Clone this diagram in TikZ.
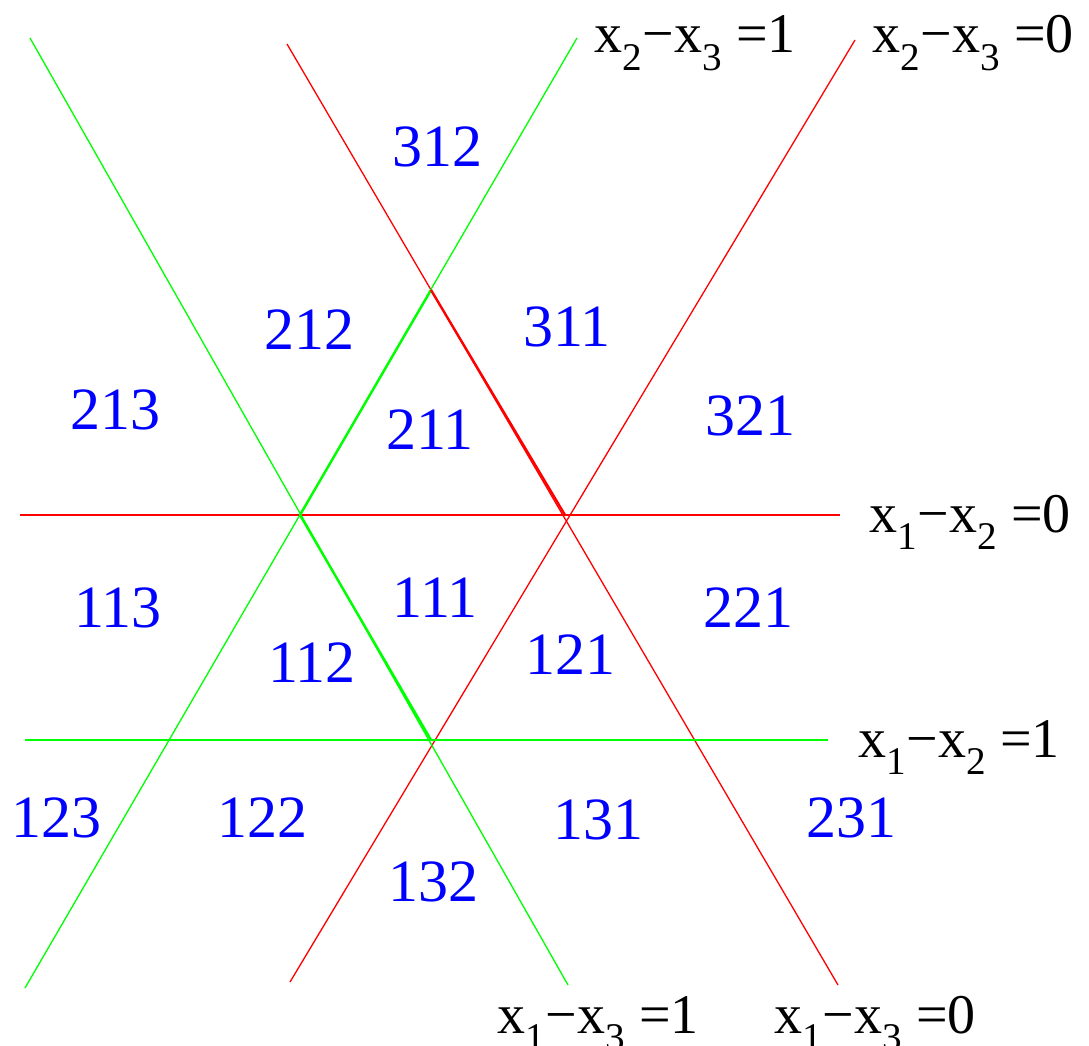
\documentclass[tikz,border=0pt]{standalone}
\usepackage{fontspec}
\setmainfont{Liberation Serif}
\usepackage{tikz}
\usetikzlibrary{positioning,calc}
\definecolor{linered}{RGB}{255,0,0}
\definecolor{linegreen}{RGB}{0,255,0}
\definecolor{regionblue}{RGB}{0,0,255}
\newcommand{\eqn}[3]{x\textsubscript{#1}−x\textsubscript{#2} =#3}

\begin{document}
\begin{tikzpicture}[x=1pt,y=-1pt,
redline/.style={draw=linered,line width=1.3pt},
greenline/.style={draw=linegreen,line width=1.3pt},
region/.style={text=regionblue,font=\fontsize{60}{70}\selectfont,inner sep=0pt},
eqlabel/.style={font=\fontsize{56}{70}\selectfont,inner sep=0pt,anchor=base}]
\path[use as bounding box] (0,0) rectangle (1089,1046);
% line ends
\coordinate (r0w) at (20,515);\coordinate (r0e) at (840,515);
\coordinate (g0w) at (25,740);\coordinate (g0e) at (828,740);
\coordinate (rAn) at (287,44);\coordinate (rAs) at (838,985);
\coordinate (rBn) at (855,40);\coordinate (rBs) at (290,982);
\coordinate (gCn) at (30,38);\coordinate (gCs) at (568,985);
\coordinate (gDn) at (577,38);\coordinate (gDs) at (25,988);
% corners of the middle triangle
\coordinate (tl) at (300,515);\coordinate (tt) at (431,290);
\coordinate (tr) at (565,515);\coordinate (tb) at (431,740);
\draw[redline] (r0w)--(r0e);\draw[redline] (rAn)--(rAs);\draw[redline] (rBn)--(rBs);
\draw[greenline] (g0w)--(g0e);\draw[greenline] (gCn)--(gCs);\draw[greenline] (gDn)--(gDs);
\draw[greenline,line width=2.4pt] (tl)--(tt);\draw[greenline,line width=2.4pt] (tl)--(tb);
\draw[redline,line width=2.4pt] (tt)--(tr);
% equations
\node[eqlabel] (e23a) at (695,53) {\eqn{2}{3}{1}};
\node[eqlabel] (e23b) at (973,53) {\eqn{2}{3}{0}};
\node[eqlabel] (e12a) at (970,532) {\eqn{1}{2}{0}};
\node[eqlabel] (e12b) at (959,757) {\eqn{1}{2}{1}};
\node[eqlabel] (e13a) at (598,1033) {\eqn{1}{3}{1}};
\node[eqlabel] (e13b) at (875,1033) {\eqn{1}{3}{0}};
% regions
\node[region] (n312) at (437,147) {312};
\node[region] (n212) at (309,330) {212};
\node[region] (n311) at (567,327) {311};
\node[region] (n213) at (115,410) {213};
\node[region] (n211) at (430,430) {211};
\node[region] (n321) at (750,416) {321};
\node[region] (n113) at (118,608) {113};
\node[region] (n111) at (435,598) {111};
\node[region] (n221) at (748,608) {221};
\node[region] (n112) at (312,663) {112};
\node[region] (n121) at (570,655) {121};
\node[region] (n123) at (57,818) {123};
\node[region] (n122) at (262,818) {122};
\node[region] (n131) at (598,820) {131};
\node[region] (n231) at (851,818) {231};
\node[region] (n132) at (433,882) {132};
\end{tikzpicture}
\end{document}
